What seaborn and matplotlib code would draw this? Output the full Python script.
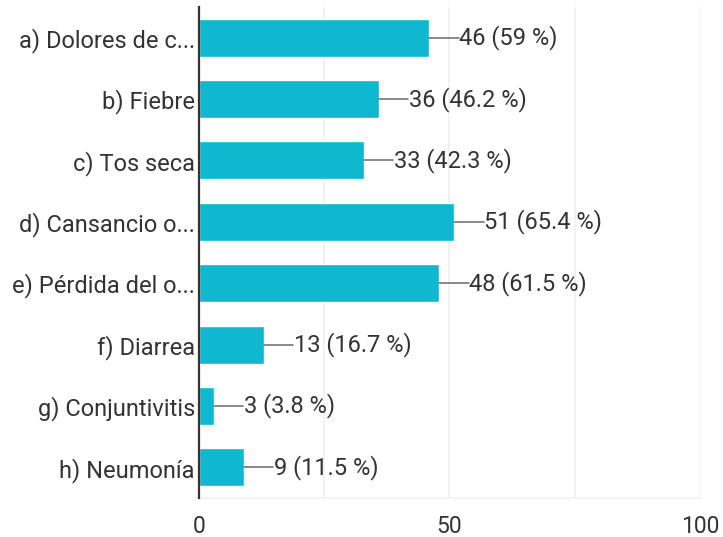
import numpy as np
import pandas as pd
import matplotlib
matplotlib.use("Agg")
import matplotlib.pyplot as plt
import seaborn as sns

# ================================
# Data
# ================================
categories = [
    "a) Dolores de c...",
    "b) Fiebre",
    "c) Tos seca",
    "d) Cansancio o...",
    "e) Pérdida del o...",
    "f) Diarrea",
    "g) Conjuntivitis",
    "h) Neumonía",
]
counts = [46, 36, 33, 51, 48, 13, 3, 9]
percents = ["59", "46.2", "42.3", "65.4", "61.5", "16.7", "3.8", "11.5"]
x_ticks = [0, 50, 100]
grid_ticks = [25, 75]

df = pd.DataFrame({"categoria": categories, "respuestas": counts})

# ================================
# Plot
# ================================
sns.set_style("white")
plt.rcParams["font.family"] = ["Roboto", "DejaVu Sans"]

fig = plt.figure(figsize=(7.23, 5.37), dpi=100)
ax = fig.add_axes([0.2752, 0.0726, 0.6930, 0.9144])

sns.barplot(data=df, y="categoria", x="respuestas", orient="h",
            color="#0FB8CF", saturation=1, width=0.62, ax=ax, zorder=3)

ax.set_xlim(0, 100)
ax.set_ylim(len(categories) - 0.5, -0.5)
ax.set_xticks(x_ticks)
ax.set_xticks(grid_ticks, minor=True)
ax.grid(axis="x", which="both", color="#f0f0f0", linewidth=1.2, zorder=0)
ax.tick_params(axis="x", which="both", length=0, labelsize=16.5, colors="#333333", pad=12)
ax.tick_params(axis="y", length=0, labelsize=17, colors="#333333", pad=3)
ax.set_xlabel("")
ax.set_ylabel("")

for s in ["top", "right"]:
    ax.spines[s].set_visible(False)
ax.spines["bottom"].set_color("#f0f0f0")
ax.spines["bottom"].set_linewidth(1.2)
ax.spines["left"].set_color("#333333")
ax.spines["left"].set_linewidth(1.6)
ax.spines["left"].set_zorder(5)

# leader lines + value labels
for i, (c, p) in enumerate(zip(counts, percents)):
    ax.plot([c, c + 5.8], [i, i], color="#757575", linewidth=1.2, zorder=4)
    ax.text(c + 5.9, i, f"{c} ({p} %)", va="center", ha="left",
            fontsize=17, color="#333333", zorder=4)

fig.savefig("out.png", dpi=100)
